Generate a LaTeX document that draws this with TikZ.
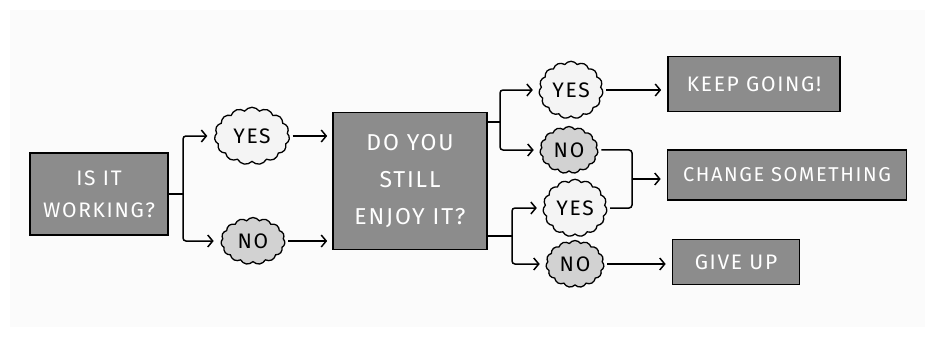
\documentclass[tikz,border=0pt]{standalone}
\usepackage{fontspec}
\setmainfont{Fira Sans}[LetterSpace=8]
\usetikzlibrary{arrows.meta,shapes.symbols}
\definecolor{boxgray}{HTML}{8C8C8C}
\definecolor{nogray}{HTML}{D2D2D2}
\definecolor{yesgray}{HTML}{F4F4F4}
\definecolor{bggray}{HTML}{FBFBFB}
\begin{document}
\begin{tikzpicture}[x=1pt,y=-1pt,
  every node/.style={font=\fontsize{21}{32}\selectfont},
  qbox/.style={draw=black,line width=1.6pt,fill=boxgray,text=white,align=center,inner sep=0pt},
  ybub/.style={cloud,cloud puffs=15,cloud puff arc=110,draw=black,line width=1.3pt,fill=yesgray,inner sep=0pt},
  nbub/.style={ybub,fill=nogray},
  link/.style={line width=1.5pt,draw=black,rounded corners=3pt},
  arr/.style={link,-{Straight Barb[length=5pt,width=12pt,line width=1.5pt]}}
]
\useasboundingbox (0,0) rectangle (935,337);
\fill[bggray] (10,10) rectangle (925,327);
% main boxes
\node[qbox,minimum width=138pt,minimum height=82pt] (q1) at (99,194) {IS IT\\WORKING?};
\node[qbox,minimum width=154pt,minimum height=137pt,font=\fontsize{23}{37}\selectfont] (q2) at (410,181) {DO YOU\\STILL\\ENJOY IT?};
% bubbles
\node[ybub,minimum width=75pt,minimum height=50pt] (y1) at (252,136) {YES};
\node[nbub,minimum width=64pt,minimum height=42pt] (n1) at (253,241) {NO};
\node[ybub,minimum width=64pt,minimum height=47pt] (y2) at (571,90) {YES};
\node[nbub,minimum width=58pt,minimum height=38pt] (n2) at (569,150) {NO};
\node[ybub,minimum width=64pt,minimum height=44pt] (y3) at (575,208) {YES};
\node[nbub,minimum width=58pt,minimum height=38pt] (n3) at (575,264) {NO};
% outcome boxes
\node[qbox,minimum width=172pt,minimum height=55pt] (k) at (754,84) {KEEP GOING!};
\node[qbox,minimum width=239pt,minimum height=50pt,font=\fontsize{20}{24}\selectfont] (c) at (787,175) {CHANGE SOMETHING};
\node[qbox,minimum width=127pt,minimum height=45pt] (g) at (736,262) {GIVE UP};
% fork points
\coordinate (f1) at (183,194);
\coordinate (f2) at (500,122);
\coordinate (f3) at (512,236);
\coordinate (m) at (632,179);
% connectors
\draw[link] (q1.east) -- (f1);
\draw[arr,shorten >=7pt] (f1) |- (y1.west);
\draw[arr,shorten >=7pt] (f1) |- (n1.west);
\draw[arr,shorten <=3pt,shorten >=5pt] (y1.east) -- (q2.west |- y1.east);
\draw[arr,shorten <=3pt,shorten >=5pt] (n1.east) -- (q2.west |- n1.east);
\draw[link] (f2 -| q2.east) -- (f2);
\draw[arr,shorten >=6pt] (f2) |- (y2.west);
\draw[arr,shorten >=6pt] (f2) |- (n2.west);
\draw[link] (f3 -| q2.east) -- (f3);
\draw[arr,shorten >=6pt] (f3) |- (y3.west);
\draw[arr,shorten >=6pt] (f3) |- (n3.west);
\draw[link,shorten <=3pt] (n2.east) -| (m);
\draw[link,shorten <=3pt] (y3.east) -| (m);
\draw[arr,shorten >=6pt] (m) -- (c.west |- m);
\draw[arr,shorten <=3pt,shorten >=6pt] (y2.east) -- (k.west |- y2.east);
\draw[arr,shorten <=3pt,shorten >=6pt] (n3.east) -- (g.west |- n3.east);
\end{tikzpicture}
\end{document}
